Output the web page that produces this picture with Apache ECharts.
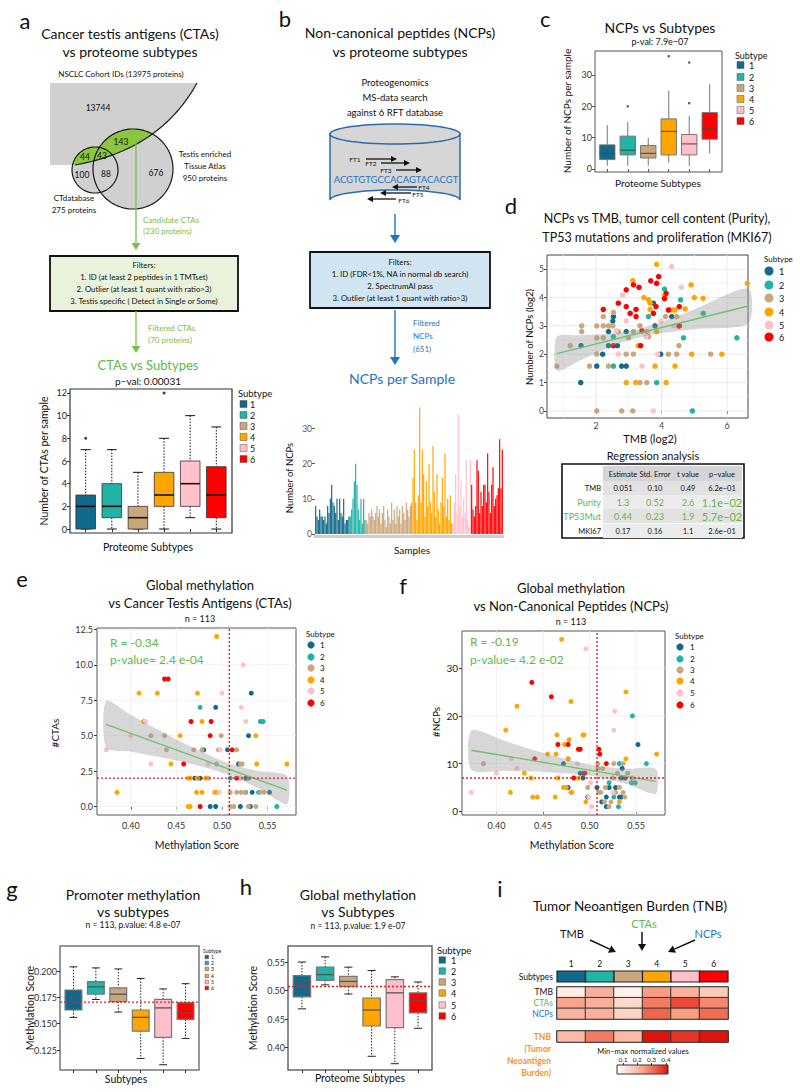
<!DOCTYPE html>
<html><head><meta charset="utf-8">
<script src="https://cdn.jsdelivr.net/npm/echarts@6/dist/echarts.min.js"></script>
<style>html,body{margin:0;padding:0;background:#fff}#c{width:800px;height:1092px}</style>
</head><body><div id="c"></div>
<script>
// ---------------- DATA ----------------
const subtypes = ['1','2','3','4','5','6'];
const subtypeColors = ['#11698b','#20b3a6','#caa67c','#ffa500','#ffc0cb','#ff0000'];

// a: CTAs per sample boxplot [min, q1, median, q3, max]
const ctaBox = [[0,0,2,3,7],[0,1,2,4,7],[0,0,1,2,5],[0,2,3,5,8],[1,2,4,6,10],[0,1,3,5.5,9]];
const ctaOutliers = [[1,8],[4,12]];
const ctaTicks = [0,2,4,6,8,10,12];

// b: NCPs per sample, grouped by subtype
const ncpSub1 = [8,5,4,7,5,5,4,5,3,8,6,10,14,9,8,6,10,4,10,6,5,10,3,4,4,5];
const ncpSub2 = [5,7,10,15,20,14,7,4,10,3,10,4];
const ncpSub3 = [4,3,6,5,7,5,4,6,8,5,7,3,6,8,4,2,7,5,3,9,4,7,3,8,5,7,3,8,6,4,9,7,5,8,9];
const ncpSub4 = [16,24,9,4,11,36,9,24,17,5,15,8,20,9,6,25,12,5,17,7,3,9,16,8,23,5,10,4,11,3];
const ncpSub5 = [3,9,17,6,34,8,15,5,10,6,21,4,2,21];
const ncpSub6 = [14,7,5,8,21,18,6,12,8,14,14,9,23,12,6,14,19,8,10,11,13,27,13,24];
const ncpTicks = [0,10,20,30];

// c: NCPs per sample boxplot
const ncpBox = [[1,3,5,7.7,14],[1,4.5,6,10.5,15],[1,3.5,5,7.5,10],[2,4.5,12,16,25],[1,4.5,8,11,17],[5,9.5,13,18,27]];
const ncpOutliers = [[2,20],[4,36],[5,21],[5,34]];

// d: TMB (log2) vs NCPs (log2)
const dPts1 = [[1.54,2.3],[1.53,1.0],[2.2,2.0],[2.02,1.58],[2.38,2.8],[2.53,3.33],[2.51,3.17],[2.65,2.3],[2.38,2.3],[2.78,1.58],[2.92,1.58],[2.92,2.8],[3.75,3.8],[3.8,3.0],[3.97,2.0],[4.31,3.33],[4.53,3.0]];
const dPts2 = [[4.09,4.3],[4.58,3.92],[3.6,3.33],[5.27,3.44],[4.67,2.58],[6.3,2.58],[3.85,1.0],[4.94,0],[2.53,1.58],[2.53,2.62]];
const dPts3 = [[0.8,1.58],[1.21,2.3],[1.56,3.0],[1.56,2.8],[1.8,1.58],[2.02,3.0],[2.02,2.58],[2.02,2.0],[2.22,3.0],[2.22,3.33],[2.22,2.58],[2.38,3.0],[2.38,1.58],[2.51,3.0],[2.53,3.48],[2.68,2.8],[2.92,2.0],[2.99,2.58],[3.14,2.8],[3.14,2.0],[3.55,2.8],[3.55,1.0],[3.34,1.0],[2.02,0],[2.78,0],[3.12,0],[4.12,3.33],[4.46,3.33],[4.21,2.0],[4.46,2.0],[4.53,2.3],[5.5,2.0],[3.6,2.62],[3.34,3.0]];
const dPts4 = [[3.85,5.17],[3.12,4.6],[4.9,4.45],[6.62,4.5],[3.46,4.0],[3.6,3.92],[3.65,3.8],[4.09,4.07],[4.31,3.56],[4.41,3.56],[5.0,4.0],[5.27,3.97],[4.72,3.6],[3.65,3.58],[3.29,2.3],[2.92,1.0],[3.21,1.0],[4.14,1.0],[3.8,1.58],[4.41,1.58],[4.92,2.0],[5.84,2.0],[3.85,2.8]];
const dPts5 = [[2.81,4.09],[4.31,5.09],[4.6,4.36],[2.92,3.17],[2.68,2.0],[3.52,2.62],[3.4,1.58],[3.88,2.0],[3.75,0],[4.39,3.0],[3.98,3.17],[2.61,2.83]];
const dPts6 = [[2.22,3.58],[2.68,3.8],[2.92,4.27],[3.14,4.45],[3.31,4.36],[3.67,4.59],[3.85,4.5],[3.91,4.74],[4.14,4.15],[4.09,3.96],[2.92,3.68],[3.04,3.44],[3.22,3.58],[3.22,3.33],[3.4,2.82],[3.75,3.44],[3.83,3.68],[4.21,3.56],[4.54,3.68],[3.36,2.3],[2.53,2.3],[4.54,3.0]];
const dFit = [[0.8,2.02],[6.65,3.7]];
const dBandX = [0.8,1.5,2.5,3.2,4,5,6.65];
const dBandLo = [1.42,1.77,2.29,2.56,2.74,2.88,3.08];
const dBandHi = [2.62,2.67,2.73,2.86,3.14,3.58,4.32];

// regression table
const regTerms = ['TMB','Purity','TP53Mut','MKI67'];
const regEstimate = ['0.051','1.3','0.44','0.17'];
const regStdErr = ['0.10','0.52','0.23','0.16'];
const regT = ['0.49','2.6','1.9','1.1'];
const regP = ['6.2e\u221201','1.1e\u221202','5.7e\u221202','2.6e\u221201'];
const regSignif = [false,true,true,false];

// e: methylation vs CTAs
const ePts1 = [[0.532,8],[0.493,7],[0.529,5],[0.480,4],[0.506,4],[0.518,3],[0.470,2],[0.476,2],[0.533,1],[0.552,1],[0.487,0],[0.493,0],[0.520,0],[0.531,0],[0.526,2]];
const ePts2 = [[0.476,7],[0.542,6],[0.545,6],[0.509,2],[0.529,2],[0.526,1],[0.560,0],[0.540,1],[0.520,2]];
const ePts3 = [[0.422,5],[0.437,5],[0.499,5],[0.439,4],[0.469,4],[0.478,4],[0.496,4],[0.516,4],[0.494,3],[0.520,3],[0.522,3],[0.485,2],[0.520,2],[0.509,1],[0.516,1],[0.521,1],[0.525,1],[0.542,1],[0.546,1],[0.509,0],[0.513,0],[0.529,0],[0.537,0],[0.495,1]];
const ePts4 = [[0.494,12],[0.409,8],[0.429,8],[0.473,8],[0.414,6],[0.478,6],[0.454,5],[0.537,5],[0.444,3],[0.538,3],[0.571,3],[0.463,2],[0.465,2],[0.472,1],[0.478,1],[0.492,1],[0.385,1],[0.463,0],[0.465,0],[0.482,2],[0.473,2]];
const ePts5 = [[0.373,4],[0.400,5],[0.416,6],[0.422,3],[0.500,8],[0.523,10],[0.521,7],[0.526,6],[0.485,3],[0.498,4],[0.520,2],[0.497,1]];
const ePts6 = [[0.437,9],[0.441,9],[0.466,6],[0.488,6],[0.487,5],[0.458,3],[0.476,0],[0.511,4],[0.516,2]];
const eFit = [[0.373,5.8],[0.571,1.15]];
const eBandX = [0.373,0.40,0.43,0.46,0.49,0.51,0.54,0.571];
const eBandLo = [4.15,3.87,3.51,3.11,2.6,2.16,1.28,0.15];
const eBandHi = [7.45,6.47,5.41,4.41,3.5,3.0,2.48,2.15];
const eCutX = 0.508, eCutY = 2;

// f: methylation vs NCPs
const fPts1 = [[0.552,14],[0.472,10],[0.477,5],[0.490,8],[0.493,8],[0.493,7],[0.508,5],[0.513,2],[0.521,5],[0.518,3],[0.518,1],[0.535,9],[0.534,7],[0.538,7],[0.528,5],[0.532,3],[0.534,3],[0.498,3]];
const fPts2 = [[0.546,20],[0.477,11],[0.561,10],[0.532,10],[0.545,6],[0.549,6],[0.526,3],[0.531,1],[0.521,6]];
const fPts3 = [[0.386,10],[0.509,10],[0.514,9],[0.509,9],[0.526,10],[0.536,10],[0.530,8],[0.541,8],[0.525,7],[0.498,5],[0.517,5],[0.510,4],[0.512,4],[0.523,2],[0.521,1],[0.528,4],[0.536,4],[0.538,3],[0.532,5],[0.516,2],[0.546,7],[0.480,4]];
const fPts4 = [[0.470,36],[0.422,22],[0.480,23],[0.410,17],[0.465,16],[0.478,15],[0.493,16],[0.494,16],[0.473,14],[0.455,12],[0.464,12],[0.477,11],[0.430,8],[0.437,7],[0.466,7],[0.488,7],[0.415,4],[0.472,5],[0.475,5],[0.481,4],[0.439,3],[0.444,3],[0.463,3],[0.496,2],[0.539,25],[0.539,11],[0.572,12],[0.532,2]];
const fPts5 = [[0.373,4],[0.496,34],[0.527,21],[0.526,17],[0.400,8],[0.416,11],[0.422,9],[0.487,10],[0.499,3],[0.502,1],[0.501,6],[0.525,4]];
const fPts6 = [[0.438,27],[0.459,24],[0.466,14],[0.477,14],[0.488,13],[0.490,13],[0.510,13],[0.511,12],[0.441,11],[0.483,7],[0.495,8],[0.518,10]];
const fFit = [[0.373,12.8],[0.571,6.3]];
const fBandX = [0.373,0.41,0.45,0.49,0.51,0.54,0.571];
const fBandLo = [8.65,8.49,8.27,7.76,7.16,5.72,3.7];
const fBandHi = [16.95,14.69,12.27,10.16,9.46,8.92,8.9];
const fCutX = 0.508, fCutY = 7;
const methTicks = [0.40,0.45,0.50,0.55];

// g: promoter methylation boxplot
const promBox = [[0.156,0.163,0.175,0.182,0.204],[0.173,0.178,0.185,0.190,0.203],[0.161,0.171,0.178,0.184,0.202],[0.117,0.143,0.156,0.163,0.193],[0.111,0.137,0.165,0.173,0.183],[0.136,0.154,0.160,0.170,0.188]];
const promCut = 0.1705;
const promTicks = [0.125,0.150,0.175,0.200];
// h: global methylation boxplot
const globBox = [[0.468,0.489,0.515,0.526,0.550],[0.510,0.518,0.528,0.541,0.559],[0.494,0.507,0.516,0.525,0.541],[0.385,0.438,0.466,0.487,0.535],[0.372,0.435,0.496,0.519,0.524],[0.434,0.461,0.482,0.496,0.515]];
const globCut = 0.507;
const globTicks = [0.40,0.45,0.50,0.55];

// i: normalized values
const heatRows = ['TMB','CTAs','NCPs'];
const heatTMB = [0.10,0.22,0.09,0.25,0.22,0.17];
const heatCTA = [0.24,0.22,0.14,0.30,0.36,0.28];
const heatNCP = [0.21,0.22,0.15,0.33,0.25,0.32];
const heatTNB = [0.20,0.30,0.20,0.43,0.38,0.43];
const heatMin = 0.058, heatMax = 0.415;
const heatTicks = [0.1,0.2,0.3,0.4];

// ---------------- HELPERS ----------------
const FONT = 'Lato, "Noto Sans", sans-serif';
const GREEN = '#5cb947', BLUE = '#1f74c4', ORANGE = '#f7941d';
const G = [];
function T(x,y,text,o){o=o||{};G.push({type:'text',x:x,y:y,rotation:o.rot||0,z:50,silent:true,style:{text:text,fill:o.color||'#111',fontSize:o.size||9,fontFamily:FONT,fontWeight:o.weight||'normal',align:o.align||'center',verticalAlign:o.va||'middle'}});}
function L(x1,y1,x2,y2,color,w,dash){G.push({type:'line',z:40,silent:true,shape:{x1:x1,y1:y1,x2:x2,y2:y2},style:{stroke:color,lineWidth:w||1,lineDash:dash||null}});}
function R(x,y,w,h,fill,stroke,lw,z){G.push({type:'rect',z:z||30,silent:true,shape:{x:x,y:y,width:w,height:h},style:{fill:fill||'none',stroke:stroke||null,lineWidth:lw||1}});}
function P(points,fill,stroke,lw,z){G.push({type:'polygon',z:z||30,silent:true,shape:{points:points},style:{fill:fill||'none',stroke:stroke||null,lineWidth:lw||1}});}
function PL(points,stroke,lw,z){G.push({type:'polyline',z:z||40,silent:true,shape:{points:points},style:{stroke:stroke,lineWidth:lw||1,fill:null}});}
function CI(cx,cy,r,fill,z){G.push({type:'circle',z:z||40,silent:true,shape:{cx:cx,cy:cy,r:r},style:{fill:fill}});}
function arrow(x1,y1,x2,y2,color,lw,hl,hw){const a=Math.atan2(y2-y1,x2-x1);const bx=x2-hl*Math.cos(a),by=y2-hl*Math.sin(a);L(x1,y1,bx,by,color,lw);P([[x2,y2],[bx+hw*Math.sin(a),by-hw*Math.cos(a)],[bx-hw*Math.sin(a),by+hw*Math.cos(a)]],color,null,0,41);}
function ellipsePts(cx,cy,rx,ry,a0,a1,n){const p=[];for(let i=0;i<=n;i++){const t=a0+(a1-a0)*i/n;p.push([cx+rx*Math.cos(t),cy+ry*Math.sin(t)]);}return p;}
function bez(p0,p1,p2,n){const pts=[];for(let i=0;i<=n;i++){const t=i/n,u=1-t;pts.push([u*u*p0[0]+2*u*t*p1[0]+t*t*p2[0],u*u*p0[1]+2*u*t*p1[1]+t*t*p2[1]]);}return pts;}
function clipPoly(subject,clip){
  let area=0;for(let i=0;i<clip.length;i++){const a=clip[i],b=clip[(i+1)%clip.length];area+=a[0]*b[1]-b[0]*a[1];}
  const sg=area>0?1:-1;let out=subject;
  for(let i=0;i<clip.length;i++){
    const A=clip[i],B=clip[(i+1)%clip.length];
    const side=p=>((B[0]-A[0])*(p[1]-A[1])-(B[1]-A[1])*(p[0]-A[0]))*sg;
    const inter=(p,q)=>{const sp=side(p),sq=side(q),t=sp/(sp-sq);return [p[0]+t*(q[0]-p[0]),p[1]+t*(q[1]-p[1])];};
    const inp=out;out=[];
    for(let j=0;j<inp.length;j++){
      const cur=inp[j],prev=inp[(j+inp.length-1)%inp.length];
      const cin=side(cur)>=0,pin=side(prev)>=0;
      if(cin){if(!pin)out.push(inter(prev,cur));out.push(cur);}
      else if(pin){out.push(inter(prev,cur));}
    }
  }
  return out;
}
function legendSquares(x,yTitle,ys,size,labelX,fs,tfs){T(x-2,yTitle,'Subtype',{align:'left',size:tfs});ys.forEach((y,i)=>{R(x,y-size/2,size,size,subtypeColors[i],'#555',0.5,45);T(labelX,y,subtypes[i],{align:'left',size:fs});});}
function legendDots(x,yTitle,ys,r,labelX,fs,tfs){T(x-5,yTitle,'Subtype',{align:'left',size:tfs});ys.forEach((y,i)=>{CI(x,y,r,subtypeColors[i],45);T(labelX,y,subtypes[i],{align:'left',size:fs});});}

function vAxis(grid,min,max,ticks,o){o=o||{};return {type:'value',gridIndex:grid,min:min,max:max,position:o.pos,
  axisLine:{show:false},splitLine:{show:false},
  axisTick:{show:true,customValues:ticks,length:o.tl||3,lineStyle:{color:o.tc||'#333',width:1}},
  axisLabel:{show:!o.noLabel,customValues:ticks,fontSize:o.fs||9,color:o.lc||'#222',fontFamily:FONT,margin:o.margin||3,formatter:o.fmt}};}
function catAxis(grid,data,o){o=o||{};return {type:'category',gridIndex:grid,data:data,inverse:!!o.inverse,position:o.pos,
  axisLine:{show:false},axisTick:{show:false},splitLine:{show:false},
  axisLabel:{show:!!o.label,interval:0,fontSize:o.fs||8.5,color:'#111',fontFamily:FONT,margin:o.margin||4,fontWeight:o.weight||'normal'}};}

function boxSeries(grid,data,st){
  return {type:'custom',xAxisIndex:grid,yAxisIndex:grid,z:3,silent:true,
    data:data.map((d,i)=>[i+1].concat(d)),encode:{x:0,y:[1,2,3,4,5]},
    renderItem:function(params,api){
      const i=api.value(0);const p=[1,2,3,4,5].map(k=>api.coord([i,api.value(k)]));
      const cx=p[0][0];const w=api.size([st.boxW,0])[0];const cw=api.size([st.capW||0,0])[0];
      const ch=[];
      const ws={stroke:st.whisker,lineWidth:st.wW,lineDash:st.dash||null};
      ch.push({type:'line',shape:{x1:cx,y1:p[4][1],x2:cx,y2:p[3][1]},style:ws});
      ch.push({type:'line',shape:{x1:cx,y1:p[1][1],x2:cx,y2:p[0][1]},style:ws});
      if(st.capW){
        ch.push({type:'line',shape:{x1:cx-cw/2,y1:p[4][1],x2:cx+cw/2,y2:p[4][1]},style:{stroke:st.whisker,lineWidth:1}});
        ch.push({type:'line',shape:{x1:cx-cw/2,y1:p[0][1],x2:cx+cw/2,y2:p[0][1]},style:{stroke:st.whisker,lineWidth:1}});
      }
      ch.push({type:'rect',shape:{x:cx-w/2,y:p[3][1],width:w,height:p[1][1]-p[3][1]},style:{fill:subtypeColors[i-1],stroke:st.border,lineWidth:st.bW}});
      ch.push({type:'line',shape:{x1:cx-w/2,y1:p[2][1],x2:cx+w/2,y2:p[2][1]},style:{stroke:st.median,lineWidth:st.mW}});
      return {type:'group',children:ch};
    }};
}
function ribbon(grid,xs,lo,hi){return {type:'custom',xAxisIndex:grid,yAxisIndex:grid,z:4,silent:true,data:[[xs[0],lo[0]]],
  renderItem:function(params,api){const pts=[];for(let i=0;i<xs.length;i++)pts.push(api.coord([xs[i],hi[i]]));for(let i=xs.length-1;i>=0;i--)pts.push(api.coord([xs[i],lo[i]]));
    return {type:'polygon',shape:{points:pts,smooth:0.25},style:{fill:'rgba(150,150,150,0.38)'}};}};}
function scat(grid,pts,color,size){return {type:'scatter',xAxisIndex:grid,yAxisIndex:grid,data:pts,symbolSize:size,itemStyle:{color:color,opacity:1},z:3,silent:true};}
function lineS(grid,pts,color,width,dash,z){return {type:'line',xAxisIndex:grid,yAxisIndex:grid,data:pts,symbol:'none',silent:true,z:z||6,lineStyle:{color:color,width:width,type:dash||'solid'}};}
function gridLines(grid,xs,ys,color,xr,yr){return {type:'custom',xAxisIndex:grid,yAxisIndex:grid,z:1,silent:true,
  data:xs.map(v=>[0,v]).concat(ys.map(v=>[1,v])),
  renderItem:function(params,api){const k=api.value(0),v=api.value(1);
    const a=k===0?api.coord([v,yr[0]]):api.coord([xr[0],v]);const b=k===0?api.coord([v,yr[1]]):api.coord([xr[1],v]);
    return {type:'line',shape:{x1:a[0],y1:a[1],x2:b[0],y2:b[1]},style:{stroke:color,lineWidth:0.8}};}};}

// ---------------- PANEL a diagram ----------------
T(25,20,'a',{size:22});
T(130,33,'Cancer testis antigens (CTAs)',{size:14});
T(130,51,'vs proteome subtypes',{size:14});
T(121,74,'NSCLC Cohort IDs (13975 proteins)',{size:8});
const arcPts = bez([197,83],[160,150],[75,165],40);
const shapePts = [[50,83]].concat(arcPts).concat([[50,165]]);
function circ(cx,cy,r){return ellipsePts(cx,cy,r,r,0,Math.PI*2,90).slice(0,90);}
const cSmall = circ(95,170,23), cBig = circ(133,169,40);
P(cBig,'#d0d0d0',null,0,20); P(cSmall,'#d0d0d0',null,0,20); P(shapePts,'#d0d0d0',null,0,21);
P(clipPoly(cBig,shapePts),'#8cc63f',null,0,22); P(clipPoly(cSmall,shapePts),'#8cc63f',null,0,22);
P(cBig,'none','#1a1a1a',1.2,23); P(cSmall,'none','#1a1a1a',1.2,23); PL(arcPts,'#1a1a1a',1.2,23);
T(98,108,'13744',{size:8.5}); T(121,142,'143',{size:8.5}); T(85,157,'44',{size:8.5}); T(102,156,'43',{size:8.5});
T(82,175,'100',{size:8.5}); T(106,174,'88',{size:8.5}); T(156,173,'676',{size:8.5});
T(205,154,'Testis enriched',{size:8}); T(205,166,'Tissue Atlas',{size:8}); T(205,178,'950 proteins',{size:8});
T(74,198,'CTdatabase',{size:8}); T(74,210,'275 proteins',{size:8});
arrow(136,143,136,250,'#7ac143',1.3,7,4.5);
T(143,220,'Candidate CTAs',{size:8,color:'#7ac143',align:'left'}); T(143,231,'(230 proteins)',{size:8,color:'#7ac143',align:'left'});
R(50,256,188,55,'#e9f3dc','#111',1.8,30);
T(144,265,'Filters:',{size:7.8}); T(144,277,'1. ID (at least 2 peptides in 1 TMTset)',{size:7.8});
T(144,289,'2. Outlier (at least 1 quant with ratio>3)',{size:7.8}); T(144,301,'3. Testis specific ( Detect in Single or Some)',{size:7.8});
arrow(136,311,136,353,'#7ac143',1.3,7,4.5);
T(148,328,'Filtered CTAs',{size:8,color:'#7ac143',align:'left'}); T(148,340,'(70 proteins)',{size:8,color:'#7ac143',align:'left'});
T(148,365,'CTAs vs Subtypes',{size:13,color:GREEN});
T(148,381,'p\u2212val: 0.00031',{size:10});
T(44,461,'Number of CTAs per sample',{size:10.5,rot:Math.PI/2});
T(148,547,'Proteome Subtypes',{size:10.5});
legendSquares(240,393,[404,415,426,437,448,459],7,250,9,9.5);

// ---------------- PANEL b diagram ----------------
T(285,18,'b',{size:22});
T(400,32,'Non-canonical peptides (NCPs)',{size:14});
T(400,51,'vs proteome subtypes',{size:14});
T(395,82,'Proteogenomics',{size:9.5}); T(395,97,'MS-data search',{size:9.5}); T(395,112,'against 6 RFT database',{size:9.5});
{
  const cx=395,rx=65,ry=10,yt=134,yb=200;
  const body=[[cx-rx,yt]].concat(ellipsePts(cx,yb,rx,ry,Math.PI,0,40).map(p=>[p[0],2*yb-p[1]])).concat([[cx+rx,yt]]);
  P(body,'#d6d6d6','#2b6cb0',1.5,20);
  P(ellipsePts(cx,yt,rx,ry,0,Math.PI*2,60),'#d6d6d6','#2b6cb0',1.5,21);
}
T(355,159,'FT1',{size:6.5}); arrow(366,159,397,159,'#111',1.3,6,3);
T(371,163,'FT2',{size:6.5}); arrow(381,163,410,163,'#111',1.3,6,3);
T(386,170,'FT3',{size:6.5}); arrow(396,170,422,170,'#111',1.3,6,3);
T(396,179,'ACGTGTGCCACAGTACACGT',{size:9.5,color:BLUE});
arrow(417,187,392,187,'#111',1.3,6,3); T(424,187,'FT4',{size:6.5});
arrow(411,193,380,193,'#111',1.3,6,3); T(418,194,'FT5',{size:6.5});
arrow(396,199,367,199,'#111',1.3,6,3); T(404,200,'FT6',{size:6.5});
arrow(395,214,395,243,BLUE,1.4,8,5);
R(310,252,180,56,'#d0e4f2','#111',1.8,30);
T(400,262,'Filters:',{size:7.8}); T(400,274,'1. ID (FDR<1%, NA in normal db search)',{size:7.8});
T(400,286,'2. SpectrumAI pass',{size:7.8}); T(400,298,'3. Outlier (at least 1 quant with ratio>3)',{size:7.8});
arrow(395,310,395,365,BLUE,1.4,8,5);
T(413,323,'Filtered',{size:8,color:BLUE,align:'left'}); T(413,336,'NCPs',{size:8,color:BLUE,align:'left'}); T(413,349,'(651)',{size:8,color:BLUE,align:'left'});
T(402,378,'NCPs per Sample',{size:14,color:BLUE});
T(289,478,'Number of NCPs',{size:9.5,rot:Math.PI/2});
T(412,550,'Samples',{size:10});

// ---------------- PANEL c texts ----------------
T(540,18,'c',{size:22,align:'left'});
T(660,27,'NCPs vs Subtypes',{size:14});
T(660,41,'p-val: 7.9e\u221207',{size:9});
T(567,111,'Number of NCPs per sample',{size:10,rot:Math.PI/2});
T(658,183,'Proteome Subtypes',{size:10});
legendSquares(737,55,[65,77,88,99,110,121],7,749,9,9);

// ---------------- PANEL d texts ----------------
T(511,205,'d',{size:22});
T(657,218,'NCPs vs TMB, tumor cell content (Purity),',{size:12.5});
T(657,237,'TP53 mutations and proliferation (MKI67)',{size:12.5});
T(529,337,'Number of NCPs (log2)',{size:9.5,rot:Math.PI/2});
T(650,438,'TMB (log2)',{size:11});
legendDots(769,259,[271,285,298,312,325,337],4.5,779,9,8);
T(653,455,'Regression analysis',{size:11});
R(562,464,182,74,'#fff','#111',1.6,30);
R(603,466,139,15,'#d5d5d5',null,0,31);
const rowY=[488,502,516,531];
rowY.forEach((y,i)=>R(603,y-7,139,14,i%2?'#ececec':'#e2e2e2',null,0,31));
const colX=[623,655,688,722];
['Estimate','Std. Error','t value','p\u2212value'].forEach((h,i)=>T(colX[i],474,h,{size:7.5}));
regTerms.forEach((t,i)=>{const c=regSignif[i]?GREEN:'#111';const fs=regSignif[i]?9:7.5;
  T(601,rowY[i],t,{size:fs,color:c,align:'right'});
  T(colX[0],rowY[i],regEstimate[i],{size:fs,color:c}); T(colX[1],rowY[i],regStdErr[i],{size:fs,color:c});
  T(colX[2],rowY[i],regT[i],{size:fs,color:c}); T(colX[3],rowY[i],regP[i],{size:regSignif[i]?11:7.5,color:c});});

// ---------------- PANEL e/f texts ----------------
T(22,578,'e',{size:22});
T(200,585,'Global methylation',{size:13});
T(200,603,'vs Cancer Testis Antigens (CTAs)',{size:13});
T(200,618,'n = 113',{size:9});
T(110,642,'R = -0.34',{size:12,color:GREEN,align:'left'});
T(110,659,'p-value= 2.4 e-04',{size:12,color:GREEN,align:'left'});
T(55,733,'#CTAs',{size:10,rot:Math.PI/2});
T(197,845,'Methylation Score',{size:10.5});
legendDots(311,634,[645,657,668,680,691,703],3.6,320,8,8);

T(403,585,'f',{size:22});
T(571,588,'Global methylation',{size:13});
T(571,606,'vs Non-Canonical Peptides (NCPs)',{size:13});
T(571,621,'n = 113',{size:9});
T(470,641,'R = -0.19',{size:12,color:GREEN,align:'left'});
T(470,659,'p-value= 4.2 e-02',{size:12,color:GREEN,align:'left'});
T(436,722,'#NCPs',{size:10,rot:Math.PI/2});
T(572,845,'Methylation Score',{size:10.5});
legendDots(680,636,[647,659,670,681,693,705],3.6,690,8,8);

// ---------------- PANEL g/h texts ----------------
T(12,888,'g',{size:22});
T(133,894,'Promoter methylation',{size:14});
T(133,911,'vs subtypes',{size:14});
T(133,925,'n = 113, p.value: 4.8 e-07',{size:8.5});
T(30,1008,'Methylation Score',{size:10.5,rot:Math.PI/2});
T(126,1079,'Subtypes',{size:10.5});
legendSquares(205,951,[957,963,969,976,982,988],3.6,211,5,5);

T(246,886,'h',{size:22});
T(358,894,'Global methylation',{size:14});
T(358,911,'vs Subtypes',{size:14});
T(358,926,'n = 113, p.value: 1.9 e-07',{size:8.5});
T(253,1008,'Methylation Score',{size:10.5,rot:Math.PI/2});
T(360,1078,'Proteome Subtypes',{size:10.5});
legendSquares(439,950,[960,971,982,993,1005,1016],6.5,451,9,9.5);

// ---------------- PANEL i texts ----------------
T(500,888,'i',{size:22});
T(630,906,'Tumor Neoantigen Burden (TNB)',{size:13.5});
T(572,933,'TMB',{size:11}); arrow(590,940,616,952,'#111',1.5,7,4);
T(644,923,'CTAs',{size:11,color:GREEN}); arrow(642,932,642,951,'#111',1.5,7,4);
T(708,933,'NCPs',{size:11,color:BLUE}); arrow(695,940,668,952,'#111',1.5,7,4);
T(551,1049,'(Tumor',{size:8.5,color:ORANGE,weight:'bold',align:'right'});
T(551,1061,'Neoantigen',{size:8.5,color:ORANGE,weight:'bold',align:'right'});
T(551,1073,'Burden)',{size:8.5,color:ORANGE,weight:'bold',align:'right'});
T(643,1051,'Min\u2212max normalized values',{size:7.5});

// ---------------- OPTION ----------------
const heatStops=[{offset:0,color:'#ffffff'},{offset:0.25,color:'#fcd6c8'},{offset:0.5,color:'#f8a68e'},{offset:0.72,color:'#f06a4f'},{offset:1,color:'#e0140f'}];
const ncpGroups=[ncpSub1,ncpSub2,ncpSub3,ncpSub4,ncpSub5,ncpSub6];
const barData=[];ncpGroups.forEach((g,gi)=>g.forEach(v=>barData.push({value:v,itemStyle:{color:subtypeColors[gi]}})));
const heatData=[];[heatTMB,heatCTA,heatNCP].forEach((row,r)=>row.forEach((v,c)=>heatData.push([c,r,v])));
const tnbData=heatTNB.map((v,c)=>[c,0,v]);
const ob={outerBoundsMode:'none',containLabel:false};
function gr(l,t,w,h,extra){return Object.assign({left:l,top:t,width:w,height:h},ob,extra||{});}

const series=[];
series.push(boxSeries(0,ctaBox,{boxW:0.75,capW:0.38,whisker:'#111',wW:1,dash:[1.5,1.5],border:'#333',bW:0.8,median:'#111',mW:1.6}));
series.push({type:'scatter',xAxisIndex:0,yAxisIndex:0,data:ctaOutliers,symbolSize:3,itemStyle:{color:'#111'},silent:true,z:4});
series.push({type:'bar',xAxisIndex:1,yAxisIndex:1,data:barData,barCategoryGap:'12%',silent:true});
series.push(boxSeries(2,ncpBox,{boxW:0.75,capW:0,whisker:'#777',wW:1,dash:null,border:'#777',bW:1,median:'#444',mW:1}));
series.push({type:'scatter',xAxisIndex:2,yAxisIndex:2,data:ncpOutliers,symbolSize:2.5,itemStyle:{color:'#333'},silent:true,z:4});
series.push(gridLines(3,[1,3,5],[0.5,1.5,2.5,3.5,4.5],'#f3f3f3',[0.5,6.64],[-0.25,5.5]));
series.push(gridLines(3,[2,4,6],[0,1,2,3,4,5],'#e4e4e4',[0.5,6.64],[-0.25,5.5]));
[dPts1,dPts2,dPts3,dPts4,dPts5,dPts6].forEach((p,i)=>series.push(scat(3,p,subtypeColors[i],5.5)));
series.push(ribbon(3,dBandX,dBandLo,dBandHi));
series.push(lineS(3,dFit,'#6cc36c',1.4));
series.push(gridLines(4,methTicks,[0,2.5,5,7.5,10,12.5],'#efefef',[0.363,0.581],[-0.6,12.6]));
[ePts1,ePts2,ePts3,ePts4,ePts5,ePts6].forEach((p,i)=>series.push(scat(4,p,subtypeColors[i],5)));
series.push(ribbon(4,eBandX,eBandLo,eBandHi));
series.push(lineS(4,eFit,'#6cc36c',1.3));
series.push(lineS(4,[[eCutX,-0.6],[eCutX,12.6]],'#e4201c',1.4,[2,2],7));
series.push(lineS(4,[[0.363,eCutY],[0.581,eCutY]],'#e4201c',1.4,[2,2],7));
series.push(gridLines(5,methTicks,[0,10,20,30],'#efefef',[0.363,0.581],[-0.75,37.75]));
[fPts1,fPts2,fPts3,fPts4,fPts5,fPts6].forEach((p,i)=>series.push(scat(5,p,subtypeColors[i],5)));
series.push(ribbon(5,fBandX,fBandLo,fBandHi));
series.push(lineS(5,fFit,'#6cc36c',1.3));
series.push(lineS(5,[[fCutX,-0.75],[fCutX,37.75]],'#e4201c',1.4,[2,2],7));
series.push(lineS(5,[[0.363,fCutY],[0.581,fCutY]],'#e4201c',1.4,[2,2],7));
series.push(boxSeries(6,promBox,{boxW:0.75,capW:0.35,whisker:'#222',wW:1,dash:[1.5,1.5],border:'#777',bW:1.2,median:'#555',mW:1.3}));
series.push(lineS(6,[[0.4,promCut],[6.6,promCut]],'#e4201c',1.4,[2,2],5));
series.push(boxSeries(7,globBox,{boxW:0.75,capW:0.35,whisker:'#222',wW:1,dash:[1.5,1.5],border:'#777',bW:1.2,median:'#555',mW:1.3}));
series.push(lineS(7,[[0.4,globCut],[6.6,globCut]],'#e4201c',1.4,[2,2],5));
series.push({type:'custom',xAxisIndex:8,yAxisIndex:8,silent:true,data:subtypes.map((s,i)=>[i,0]),
  renderItem:function(params,api){const c=api.coord([api.value(0),api.value(1)]);const s=api.size([1,1]);
    return {type:'rect',shape:{x:c[0]-s[0]/2,y:c[1]-s[1]/2,width:s[0],height:s[1]},style:{fill:subtypeColors[params.dataIndex],stroke:'#222',lineWidth:1.2}};}});
const heatIdx=series.length;
series.push({type:'heatmap',xAxisIndex:9,yAxisIndex:9,data:heatData,silent:true,itemStyle:{borderColor:'#333',borderWidth:1}});
series.push({type:'heatmap',xAxisIndex:10,yAxisIndex:10,data:tnbData,silent:true,itemStyle:{borderColor:'#333',borderWidth:1}});
series.push({type:'custom',xAxisIndex:11,yAxisIndex:11,silent:true,data:[[heatMin,0]],
  renderItem:function(params,api){const cs=params.coordSys;
    return {type:'rect',shape:{x:cs.x,y:cs.y,width:cs.width,height:cs.height},style:{fill:new echarts.graphic.LinearGradient(0,0,1,0,heatStops),stroke:'#333',lineWidth:1}};}});

const option={
  animation:false,
  textStyle:{fontFamily:FONT},
  grid:[
    gr(70,389,162,144,{show:true,borderColor:'#333',borderWidth:1.2,backgroundColor:'transparent'}),
    gr(315,404,188,130),
    gr(595,51,127,121,{show:true,borderColor:'#555',borderWidth:1}),
    gr(547,255,201,163,{show:true,borderColor:'#444',borderWidth:1}),
    gr(97,628,199,187,{show:true,borderColor:'#555',borderWidth:1}),
    gr(462,631,203,184,{show:true,borderColor:'#555',borderWidth:1}),
    gr(60,946,139,124,{show:true,borderColor:'#777',borderWidth:1.5}),
    gr(288,946,144,124,{show:true,borderColor:'#666',borderWidth:1.5}),
    gr(557,971,171,11),
    gr(557,987,171,32,{show:true,borderColor:'#222',borderWidth:1.2}),
    gr(557,1031,171,11,{show:true,borderColor:'#222',borderWidth:1.2}),
    gr(617,1065,51,9)
  ],
  xAxis:[
    vAxis(0,0.4,6.6,[1,2,3,4,5,6],{noLabel:true}),
    {type:'category',gridIndex:1,data:barData.map((d,i)=>String(i+1)),axisLabel:{show:false},axisTick:{show:false},
      axisLine:{show:true,onZero:false,lineStyle:{color:'#cdcdcd',width:3}},offset:2},
    vAxis(2,0.4,6.6,[1,2,3,4,5,6],{noLabel:true,tc:'#555'}),
    vAxis(3,0.5,6.64,[2,4,6],{fs:9,lc:'#444',tc:'#444'}),
    vAxis(4,0.363,0.581,methTicks,{fs:9,lc:'#333',fmt:v=>v.toFixed(2),margin:6}),
    vAxis(5,0.363,0.581,methTicks,{fs:9,lc:'#333',fmt:v=>v.toFixed(2),margin:6}),
    vAxis(6,0.4,6.6,[1,2,3,4,5,6],{noLabel:true}),
    vAxis(7,0.4,6.6,[1,2,3,4,5,6],{noLabel:true}),
    catAxis(8,subtypes,{label:true,pos:'top',fs:8.5,margin:3}),
    catAxis(9,subtypes),
    catAxis(10,subtypes),
    vAxis(11,heatMin,heatMax,heatTicks,{pos:'top',fs:6.5,fmt:v=>v.toFixed(1),tl:2,margin:2})
  ],
  yAxis:[
    vAxis(0,-0.35,12.35,ctaTicks,{fs:9}),
    vAxis(1,0,37,ncpTicks,{fs:8.5,lc:'#555',tc:'#555',tl:3}),
    vAxis(2,-0.96,37.66,ncpTicks,{fs:9,lc:'#333',tc:'#555'}),
    vAxis(3,-0.25,5.5,[0,1,2,3,4,5],{fs:8.5,lc:'#444',tc:'#444'}),
    vAxis(4,-0.6,12.6,[0,2.5,5,7.5,10,12.5],{fs:9,lc:'#333',fmt:v=>v.toFixed(1),margin:4}),
    vAxis(5,-0.75,37.75,ncpTicks,{fs:10,lc:'#222',margin:4}),
    vAxis(6,0.106,0.2238,promTicks,{fs:9,lc:'#333',fmt:v=>v.toFixed(3)}),
    vAxis(7,0.361,0.578,globTicks,{fs:9,lc:'#333',fmt:v=>v.toFixed(2)}),
    catAxis(8,['Subtypes'],{label:true,fs:8.5}),
    {type:'category',gridIndex:9,data:[{value:'TMB',textStyle:{color:'#111'}},{value:'CTAs',textStyle:{color:GREEN}},{value:'NCPs',textStyle:{color:BLUE}}],inverse:true,
      axisLine:{show:false},axisTick:{show:false},axisLabel:{interval:0,fontSize:8.5,fontFamily:FONT,margin:4}},
    {type:'category',gridIndex:10,data:['TNB'],axisLine:{show:false},axisTick:{show:false},
      axisLabel:{interval:0,fontSize:8.5,fontFamily:FONT,margin:6,color:ORANGE,fontWeight:'bold'}},
    catAxis(11,[''])
  ],
  visualMap:{type:'continuous',show:false,min:heatMin,max:heatMax,dimension:2,seriesIndex:[heatIdx,heatIdx+1],
    inRange:{color:heatStops.map(s=>s.color)}},
  series:series,
  graphic:{elements:G}
};
const chart=echarts.init(document.getElementById('c'),null,{renderer:'svg',width:800,height:1092});
chart.setOption(option);
</script>
</body></html>
